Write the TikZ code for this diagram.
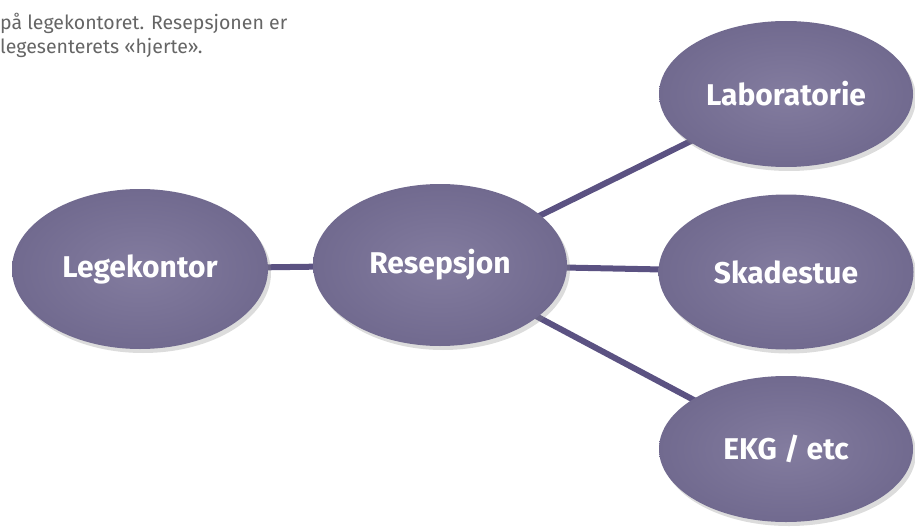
\documentclass[tikz,border=0pt]{standalone}
\usepackage{fontspec}
\setmainfont{Fira Sans}
\usetikzlibrary{shapes.geometric,shadows,backgrounds}
\definecolor{ellin}{HTML}{837C9F}
\definecolor{ellout}{HTML}{716A8F}
\definecolor{linecol}{HTML}{5B5282}
\definecolor{txtgray}{HTML}{656565}
\begin{document}
\begin{tikzpicture}[x=1pt,y=-1pt,
  bubble/.style={ellipse, minimum width=#1, inner sep=0pt,
    inner color=ellin, outer color=ellout, text=white,
    font=\fontsize{30}{34}\selectfont\bfseries,
    drop shadow={shadow xshift=3pt, shadow yshift=-4pt, fill=black!45, opacity=0.3}},
  bubble/.default=255pt,
  link/.style={draw=linecol, line width=6pt}]
\useasboundingbox (0,0) rectangle (915,532);
\node[anchor=north west, align=left, text=txtgray, font=\fontsize{19.5}{23.5}\selectfont, inner sep=0pt]
  (cap) at (0,13) {på legekontoret. Resepsjonen er\\legesenterets «hjerte».};
\node[bubble=256pt, minimum height=160pt] (lege) at (140,269) {Legekontor};
\node[bubble=254pt, minimum height=162pt] (res) at (440,265) {Resepsjon};
\node[bubble=254pt, minimum height=146pt] (lab) at (786,94) {Laboratorie};
\node[bubble=255pt, minimum height=155pt] (skade) at (786,272) {Skadestue};
\node[bubble=254pt, minimum height=146pt] (ekg) at (786,449) {EKG / etc};
\begin{scope}[on background layer]
\draw[link] (lege.center) -- (res.center);
\draw[link] (res.center) -- (skade.center);
\draw[link] (res.center) -- (lab.center);
\draw[link] (res.center) -- (ekg.center);
\end{scope}
\end{tikzpicture}
\end{document}
